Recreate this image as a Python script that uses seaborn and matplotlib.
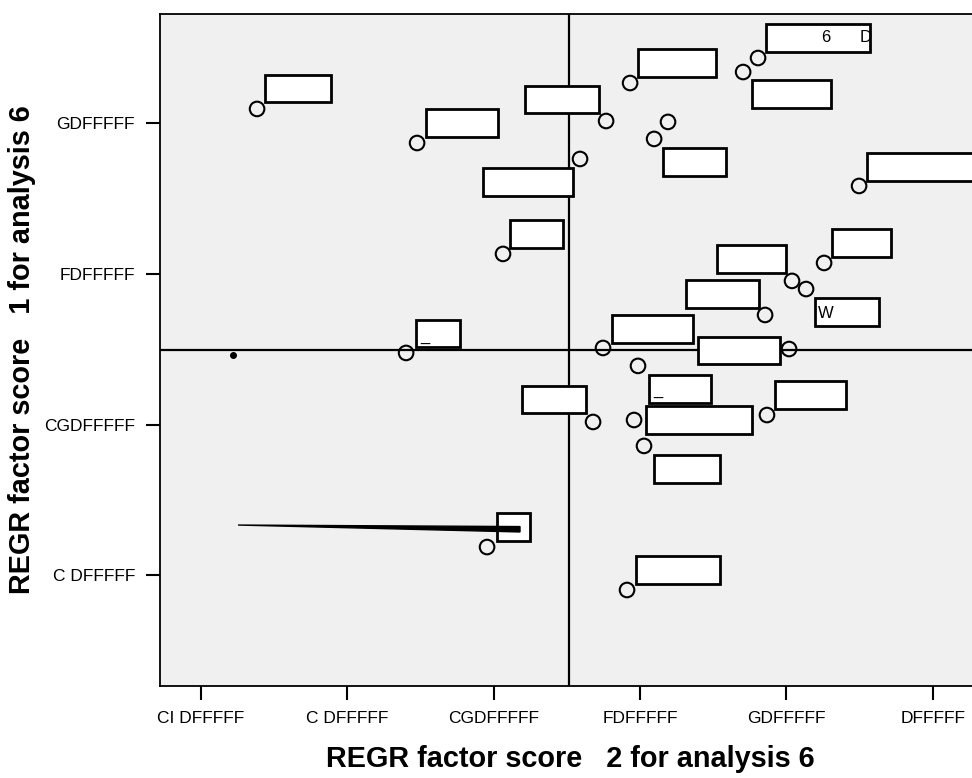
import numpy as np
import pandas as pd
import seaborn as sns
import matplotlib
matplotlib.use("Agg")
import matplotlib.pyplot as plt
from matplotlib.patches import Rectangle, Polygon

# factor scores (x = factor 2, y = factor 1)
score2 = [-2.616, -1.523, -1.598, -0.936, -0.410, -0.232, -0.068, 0.096, 0.191,
          0.704, 0.806, 1.496, 1.257, 1.038, 1.134, 0.854, 1.018, -0.253,
          -0.014, -0.321, -0.041, 0.027, 0.867, -1.045, -0.089]
score1 = [1.095, 0.869, -0.524, 0.133, 0.763, 1.015, 1.267, 0.896, 1.009,
          1.340, 1.433, 0.584, 0.073, -0.046, -0.100, -0.272, -0.498, -0.491,
          -0.610, -0.982, -0.969, -1.141, -0.936, -1.812, -2.097]

# reference lines (means)
ref_x = -0.485
ref_y = -0.504

x_ticks = [-3, -2, -1, 0, 1, 2]
x_tick_labels = ["CI DFFFFF", "C DFFFFF", "CGDFFFFF", "FDFFFFF", "GDFFFFF", "DFFFFF"]
y_ticks = [1, 0, -1, -2]
y_tick_labels = ["GDFFFFF", "FDFFFFF", "CGDFFFFF", "C DFFFFF"]

# empty case-label boxes (x0, x1, y0, y1)
label_boxes = [
    (-2.561, -2.111, 1.141, 1.320), (-1.462, -0.970, 0.909, 1.095),
    (-1.530, -1.230, -0.484, -0.305), (-0.888, -0.526, 0.173, 0.358),
    (-1.072, -0.458, 0.518, 0.703), (-0.786, -0.280, 1.068, 1.248),
    (-0.014, 0.519, 1.307, 1.493), (0.157, 0.587, 0.650, 0.836),
    (0.765, 1.305, 1.102, 1.287), (0.861, 1.571, 1.473, 1.659),
    (1.551, 2.400, 0.617, 0.803), (1.311, 1.714, 0.113, 0.299),
    (0.526, 0.997, 0.007, 0.192), (1.195, 1.633, -0.345, -0.159),
    (0.314, 0.813, -0.226, -0.040), (-0.191, 0.362, -0.458, -0.272),
    (0.396, 0.956, -0.597, -0.418), (0.061, 0.485, -0.856, -0.670),
    (-0.806, -0.369, -0.922, -0.743), (0.041, 0.765, -1.062, -0.876),
    (0.922, 1.407, -0.896, -0.710), (0.096, 0.546, -1.387, -1.201),
    (-0.977, -0.751, -1.772, -1.586), (-0.027, 0.546, -2.057, -1.871),
]
label_texts = [("6", 1.270, 1.566), ("D", 1.544, 1.566), ("W", 1.270, -0.259),
               ("_", -1.469, -0.42), ("_", 0.123, -0.78)]

df = pd.DataFrame({"score2": score2, "score1": score1})

sns.set_style("white")
plt.rcParams["font.family"] = ["Liberation Sans", "DejaVu Sans"]
plt.rcParams["text.color"] = "black"
plt.rcParams["axes.labelcolor"] = "black"
plt.rcParams["xtick.color"] = "black"
plt.rcParams["ytick.color"] = "black"

fig = plt.figure(figsize=(9.72, 7.78), dpi=100)
ax = fig.add_axes([160 / 972, 92 / 778, 820 / 972, 672 / 778])
ax.set_facecolor("#F0F0F0")

ax.axvline(ref_x, color="black", lw=1.6, zorder=1)
ax.axhline(ref_y, color="black", lw=1.6, zorder=1)

for (x0, x1, y0, y1) in label_boxes:
    ax.add_patch(Rectangle((x0, y0), x1 - x0, y1 - y0, facecolor="white",
                           edgecolor="black", lw=2.0, zorder=3))
for t, tx, ty in label_texts:
    ax.text(tx, ty, t, fontsize=12, ha="center", va="center", zorder=4)

# leader wedge and stray mark
ax.add_patch(Polygon([(-2.746, -1.666), (-0.820, -1.676), (-0.820, -1.712)],
                     closed=True, facecolor="black", edgecolor="black", lw=1, zorder=4))
ax.plot([-2.782], [-0.537], marker="o", ms=4, color="black", zorder=4)

sns.scatterplot(data=df, x="score2", y="score1", ax=ax, s=110, marker="o",
                facecolor="none", edgecolor="black", linewidth=1.5, zorder=5)
for c in ax.collections:
    c.set_facecolor("none")
    c.set_edgecolor("black")

ax.set_xlim(-3.279, 2.322)
ax.set_ylim(-2.734, 1.725)
ax.set_xticks(x_ticks)
ax.set_xticklabels(x_tick_labels)
ax.set_yticks(y_ticks)
ax.set_yticklabels(y_tick_labels)
ax.tick_params(axis="both", direction="out", length=10, width=1.5, color="black",
               labelsize=12.5, pad=8, bottom=True, left=True, labelcolor="black")
for s in ["left", "bottom", "top"]:
    ax.spines[s].set_color("black")
    ax.spines[s].set_linewidth(1.3)
ax.spines["right"].set_visible(False)

ax.set_xlabel("REGR factor score   2 for analysis 6", fontsize=20.8, fontweight="bold",
              labelpad=14, color="black")
ax.set_ylabel("REGR factor score   1 for analysis 6", fontsize=20.8, fontweight="bold",
              labelpad=6, color="black")

fig.savefig("out.png", dpi=100)
